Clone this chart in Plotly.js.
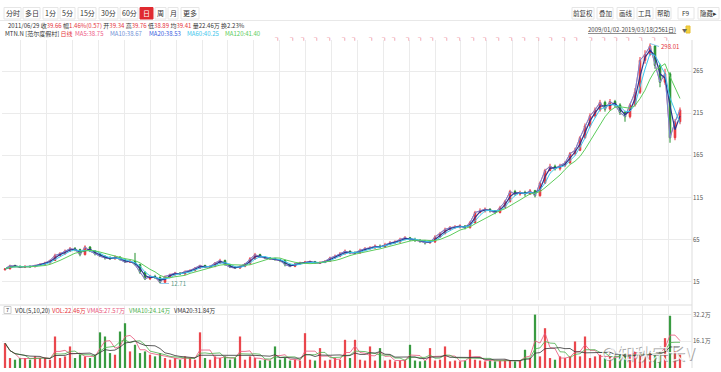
<!DOCTYPE html>
<html><head><meta charset="utf-8">
<script src="https://cdn.plot.ly/plotly-3.0.1.min.js"></script>
<style>html,body{margin:0;padding:0;background:#fff;} #chart{width:721px;height:372px;}</style>
</head><body><div id="chart"></div>
<script>
// ---------------- DATA ----------------
const firstOpen = 29;
const closes = [30,34,33,32,33,32.5,34,35.5,37,40,
46,48,51,54,53,47,56,51,48,45,
43,42,44,41,38,39,35,26,18,21,
20,14,21,23,25,24,27,28,31,34,
32,33,37,40,35,32,31,33,36,42,
47,44,43,42,41,40,35,33,36,37,
38,38.5,37,37.5,39,43,45,48,51,49,
49,52,54,55,57,56,59,61,62,65,
67,65,64,63,61,62,68,72,77,79,
80,81,79,85,97,99,101,99,97,103,
110,122,119,121,119,123,117,132,147,152,
149,153,156,167,171,186,200,212,219,228,
220,229,225,216,211,225,240,278,285,295,
272,252,262,186,205,219];
const highs = [31,35,35,34,34,34,35,36.5,38.5,41,
48,50,53,56,56,54,58,57,52,49,
46,45,46,45,42,41,49,36,27,23,
23,21,22,24.5,26.5,26,28,29.5,32,35,
35,34,38,42,41,36,33,34,37,44,
49,48,45,44,43,42,41,36,37,38.5,
39.5,40,39.5,39,40.5,44.5,47,50,53,52,
51,54,56,57,59,59,61,63,64,67,
69,68,67,65.5,64,64,70,74,79,81,
82,83,82,87,99,102,103,102,100,105,
112,124,124,123,123,125,124,134,149,155,
154,155,158,169,174,188,203,215,222,231,
230,232,231,227,218,227,245,282,290,298.01,
296,274,268,264,208,222];
const lows = [28,29.5,32,31,31,31.5,32,33.5,35,36.5,
39.5,45,47,50,51,45,46,50,46,44,
41,41,41,40,37,37,34,24,17,17,
18,12.71,13.5,20,22,23,23,26,27,30,
31,31,32,36,34,31,30,30,32,35,
41,43,42,41,40,38,33,32,32,35,
36,37,36,36,37,38.5,42,44,47,47.5,
47.5,48,51,53,54,55,55,58,60,61,
64,63,62,61,59,60,61,67,71,76,
78,78,77,78,84,96,97,97,95,96,
102,109,117,117,116,118,115,116,131,146,
147,147,151,155,165,170,185,198,210,217,
217,218,222,213,205,209,223,238,274,283,
268,246,249,180,183,202];
// volume in 万
const volumes = [15,6,5,6,6,5,7,6,6,5,
19,6,7,13,6,8,7,6,8,21.5,
19,9,8,22,27,10,14,9,10,8,
7,9,6,5,6,5,7,6,5,21.5,
6,5,7,6,7,5,6,19,5,7,
6,4.5,5,4.5,13,5,6,4.5,5,4.5,
21,5,4.5,12,4.5,5,6,5,17,6,
17,5,4.5,13,4.5,12,4.5,5,4,4.5,
5,14,4.5,4,4.5,12,4.5,5,13,4,
4.5,4,4.5,11,5,4.5,4,4.5,4,4.5,
5,4.5,4,4.5,11,6,32.2,7,24,6,
5,7,6,7,16,7,19,6,7,8,
6,7,6,8,9,7,10,8,7,9,
8,10,18,31.5,10,8];
// dividend / event markers (positions on the sample index axis)
const eventIdx = [54.2,57.2,59.4,62,64.6,67.6,69.6,73,75.6,77.6,80.4,82.8,85.2,88,90.6,93.4,95.8,98.4,101,103.6,106.4,109,111.6,114,117,119.6,122,124.4,127,129.6,132];
const priceTicks = [15,65,115,165,215,265];
const volTicks = [16.1,32.2];
const volTickText = ['16.1万','32.2万'];
const maNames = ['MA5','MA10','MA20','MA60','MA120'];
const maValues = ['38.75','38.67','38.53','40.25','41.40'];
// MA windows expressed in samples of the drawn series
const maWindows = [1,1,2,3,6];
const vmaWindows = [3,5,8];

// ---------------- BUILD ----------------
const FONT = '"Noto Sans CJK SC","Noto Sans",sans-serif';
const idx = closes.map((_, i) => i);
const opens = closes.map((_, i) => i === 0 ? firstOpen : closes[i - 1]);
function sma(a, n) {
  return a.map((_, i) => { const s = Math.max(0, i - n + 1); let t = 0; for (let k = s; k <= i; k++) t += a[k]; return t / (i - s + 1); });
}
const UP = '#e8333a', DOWN = '#23902c';
const maColors = ['#ee5a86', '#6f8fd6', '#2c3590', '#3cc6ec', '#5ccc5c'];
const maWidths = [1, 1, 1.2, 1, 1];
const traces = [];
traces.push({
  type: 'candlestick', x: idx, open: opens, high: highs, low: lows, close: closes,
  xaxis: 'x', yaxis: 'y', whiskerwidth: 0, hoverinfo: 'skip',
  increasing: { line: { color: UP, width: 1 }, fillcolor: UP },
  decreasing: { line: { color: DOWN, width: 1 }, fillcolor: DOWN }
});
maWindows.forEach((w, k) => {
  traces.push({ type: 'scatter', mode: 'lines', x: idx, y: sma(closes, w), xaxis: 'x', yaxis: 'y',
    line: { color: maColors[k], width: maWidths[k] }, hoverinfo: 'skip' });
});
const volColors = closes.map((c, i) => c >= opens[i] ? UP : DOWN);
traces.push({ type: 'bar', x: idx, y: volumes, xaxis: 'x2', yaxis: 'y2', width: 0.45,
  marker: { color: volColors, line: { width: 0 }, opacity: 0.9 }, hoverinfo: 'skip' });
const vmaColors = ['#e8557a', '#4cb04c', '#333333'];
vmaWindows.forEach((w, k) => {
  traces.push({ type: 'scatter', mode: 'lines', x: idx, y: sma(volumes, w), xaxis: 'x2', yaxis: 'y2',
    line: { color: vmaColors[k], width: 0.8 }, hoverinfo: 'skip' });
});

// pixel helpers for page furniture (plot area: x 2..692, y 40..368)
const PX = p => (p - 2) / 690, PY = p => (368 - p) / 328;
const ann = [];
function T(text, px, py, color, size, anchor) {
  ann.push({ text, x: PX(px), y: PY(py), xref: 'paper', yref: 'paper', showarrow: false,
    xanchor: anchor || 'left', yanchor: 'middle', font: { family: FONT, size: size, color: color } });
}
const shapes = [];
function R(x0, y0, x1, y1, line, fill) {
  shapes.push({ type: 'rect', xref: 'paper', yref: 'paper', x0: PX(x0), x1: PX(x1), y0: PY(y1), y1: PY(y0),
    line: { color: line, width: line ? 1 : 0 }, fillcolor: fill || 'rgba(0,0,0,0)', layer: 'above' });
}
function L(x0, y0, x1, y1, color) {
  shapes.push({ type: 'line', xref: 'paper', yref: 'paper', x0: PX(x0), x1: PX(x1), y0: PY(y0), y1: PY(y1),
    line: { color: color, width: 1 }, layer: 'below' });
}
const sp = (c, t) => '<span style="color:' + c + '">' + t + '</span>';
// toolbar
const leftBtns = [['分时',4,21],['多日',23,40],['1分',43,58],['5分',60,75],['15分',78,96],['30分',99,118],['60分',120,138],['日',140,153],['周',155,166],['月',168,178],['更多',181,199]];
leftBtns.forEach(b => {
  const active = b[0] === '日';
  R(b[1], 7.5, b[2], 19, active ? '#e02a30' : '#e6e6e6', active ? '#e02a30' : '#ffffff');
  T(b[0], (b[1] + b[2]) / 2, 13.5, active ? '#ffffff' : '#333333', 7, 'center');
});
const rightBtns = [['前复权',572,594],['叠加',597,613],['画线',617,634],['工具',637,653],['帮助',656,671],['F9',678,694],['隐藏▸',698,719]];
rightBtns.forEach(b => {
  R(b[1], 7.5, b[2], 19, '#e6e6e6', '#ffffff');
  T(b[0], (b[1] + b[2]) / 2, 13.5, '#333333', 6.5, 'center');
});
L(0, 20.5, 721, 20.5, '#e8e8e8');
// info row
const RED = '#e5323a', DK = '#333333';
T('2011/06/29 收' + sp(RED, '39.66') + ' 幅' + sp(RED, '1.46%(0.57)') + ' 开' + sp(RED, '39.34') +
  ' 高' + sp(RED, '39.76') + ' 低' + sp(RED, '38.89') + ' 均' + sp(RED, '39.41') + ' 量22.46万 换2.23%', 6, 25, DK, 6);
// MA row
T('MTN.N [范尔度假村] ' + sp(RED, '日线'), 3, 33.5, DK, 6);
const maX = [73, 108, 147, 185, 223];
maNames.forEach((n, k) => T(n + ':' + maValues[k], maX[k], 33.5, k === 2 ? '#3a5ee0' : maColors[k], 6));
// range label top right
ann.push({ text: '<u>2009/01/02-2019/03/18(2561日)</u>', x: PX(678), y: PY(29.5), xref: 'paper', yref: 'paper',
  showarrow: false, xanchor: 'right', yanchor: 'middle', font: { family: FONT, size: 6, color: '#444' } });
T('▼', 680, 29.5, '#666', 5);
R(686, 26, 690, 33, '#e8c030', '#f3d040');
// volume legend
R(4, 306.5, 11, 313.5, '#cccccc', '#ffffff');
T('7', 7.5, 310, DK, 5.5, 'center');
T('VOL(5,10,20)', 13, 310, DK, 6); T('VOL:22.46万', 50, 310, RED, 6);
T('VMA5:27.57万', 85, 310, vmaColors[0], 6); T('VMA10:24.14万', 127, 310, vmaColors[1], 6);
T('VMA20:31.84万', 172, 310, vmaColors[2], 6);
// high / low labels
let hi = 0, lo = 0;
highs.forEach((v, i) => { if (v > highs[hi]) hi = i; });
lows.forEach((v, i) => { if (v < lows[lo]) lo = i; });
ann.push({ x: hi, y: highs[hi], xref: 'x', yref: 'y', text: highs[hi].toFixed(2), showarrow: true, arrowhead: 0,
  arrowwidth: 0.8, arrowcolor: '#6fb7e6', ax: 9, ay: 3, xanchor: 'left', yanchor: 'middle', font: { family: FONT, size: 6, color: RED } });
ann.push({ x: lo, y: lows[lo], xref: 'x', yref: 'y', text: lows[lo].toFixed(2), showarrow: true, arrowhead: 0,
  arrowwidth: 0.8, arrowcolor: '#6fb7e6', ax: 9, ay: 0, xanchor: 'left', yanchor: 'middle', font: { family: FONT, size: 6, color: '#5a9a86' } });
// event markers
eventIdx.forEach(e => ann.push({ x: e, y: PY(38.8), xref: 'x', yref: 'paper', text: 'ㄱ', showarrow: false,
  xanchor: 'center', yanchor: 'middle', font: { family: FONT, size: 5.5, color: '#e3406e' } }));
// watermark (white letters with grey edge)
T('⊙知秋宗长V', 599, 353, 'rgba(120,120,120,0.6)', 17);
T('⊙知秋宗长V', 598, 352, 'rgba(255,255,255,0.85)', 17);
// frame lines
L(692, 40, 692, 368, '#dddddd');
L(0, 305, 692, 305, '#dddddd');

const grid = '#ebebeb';
const layout = {
  width: 721, height: 372, margin: { l: 2, r: 29, t: 40, b: 4 },
  paper_bgcolor: '#ffffff', plot_bgcolor: '#ffffff', showlegend: false, boxgap: 0.55,
  xaxis: { domain: [0, 1], range: [-0.6, 137.4], anchor: 'y', showticklabels: false, ticks: '',
    showgrid: true, gridcolor: grid, tick0: 8.34, dtick: 5.178, zeroline: false, rangeslider: { visible: false } },
  xaxis2: { domain: [0, 1], range: [-0.6, 137.4], anchor: 'y2', matches: 'x', showticklabels: false, ticks: '',
    showgrid: true, gridcolor: grid, tick0: 8.34, dtick: 5.178, zeroline: false },
  yaxis: { domain: [0.2073, 1], range: [-7, 302.2], side: 'right', tickmode: 'array', tickvals: priceTicks,
    showgrid: true, gridcolor: grid, zeroline: false, ticks: '', tickfont: { family: FONT, size: 6, color: '#555' } },
  yaxis2: { domain: [0, 0.1921], range: [0, 38], side: 'right', tickmode: 'array', tickvals: volTicks, ticktext: volTickText,
    showgrid: true, gridcolor: grid, zeroline: false, ticks: '', tickfont: { family: FONT, size: 6, color: '#555' } },
  annotations: ann, shapes: shapes
};
Plotly.newPlot('chart', traces, layout, { staticPlot: true, displayModeBar: false });
</script></body></html>
